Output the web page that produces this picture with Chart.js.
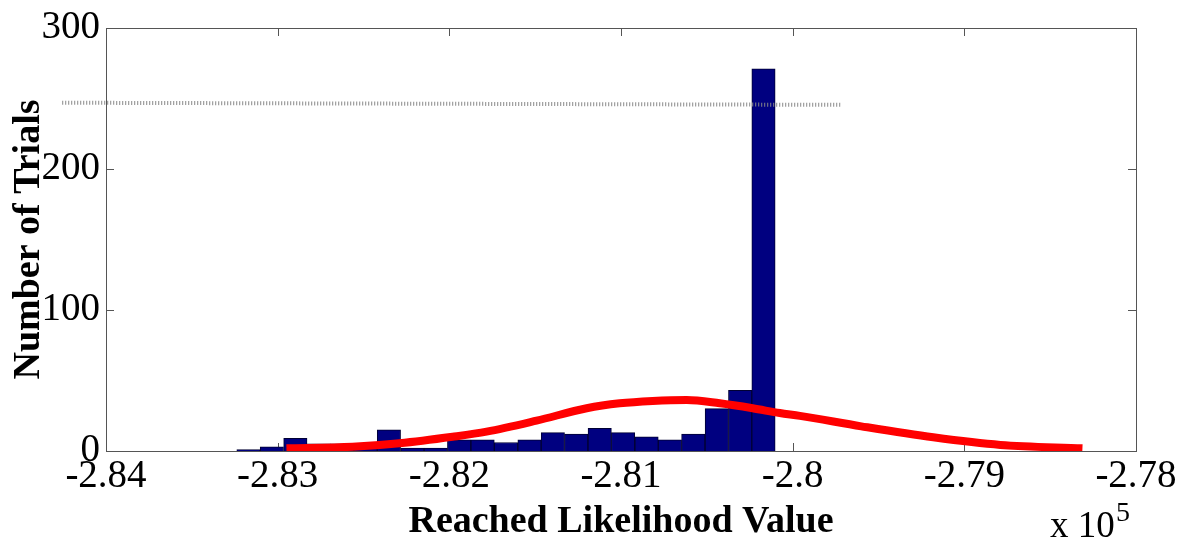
<!DOCTYPE html>
<html lang="en">
<head>
<meta charset="UTF-8">
<title>Reached Likelihood Value</title>
<style>
  body { margin: 0; background: #fff; }
  #wrap { width: 1185px; height: 544px; position: relative; }
</style>
</head>
<body>
<div id="wrap"><canvas id="histChart"></canvas></div>
<script src="https://cdn.jsdelivr.net/npm/chart.js"></script>
<script>
// histogram bins (centres) and counts
const binCenters = [-283170, -283034, -282897, -282761, -282625, -282488, -282352, -282215,
  -282079, -281943, -281806, -281670, -281533, -281397, -281261, -281124, -280988, -280851,
  -280715, -280579, -280442, -280306, -280170];
const binCounts = [1, 3, 9, 5, 5, 2, 15, 2, 2, 8, 8, 6, 8, 13, 12, 16, 13, 10, 8, 12, 30, 43, 271];

// red fitted curve
const fitX = [-282949, -282564, -282290, -281981, -281783, -281492, -281200, -281008,
  -280816, -280617, -280425, -280233, -280075, -279958, -279600, -279181, -278790, -278312];
const fitY = [1.9, 3.0, 5.5, 10.1, 13.7, 21.5, 30.3, 33.8, 35.5, 36.2, 33.8, 30.3, 26.9,
  24.9, 17.5, 9.7, 4.3, 1.9];

// grey dotted line near the top
const refX = [-284255, -279718];
const refY = [247, 245.5];

const xTicks = [-284000, -283000, -282000, -281000, -280000, -279000, -278000];
const xTickLabels = ['-2.84', '-2.83', '-2.82', '-2.81', '-2.8', '-2.79', '-2.78'];
const yTicks = [0, 100, 200, 300];

const serif = "'Liberation Serif', 'Times New Roman', serif";

// box around the plot, inward tick marks and the "x 10^5" multiplier
const framePlugin = {
  id: 'frame',
  beforeDatasetsDraw(chart) {
    const { ctx, chartArea: a, scales } = chart;
    ctx.save();
    ctx.strokeStyle = '#555';
    ctx.lineWidth = 1;
    ctx.strokeRect(a.left + 0.5, a.top + 0.5, a.right - a.left, a.bottom - a.top);
    ctx.beginPath();
    xTicks.forEach(v => {
      const px = Math.round(scales.x.getPixelForValue(v)) + 0.5;
      ctx.moveTo(px, a.bottom); ctx.lineTo(px, a.bottom - 8);
      ctx.moveTo(px, a.top); ctx.lineTo(px, a.top + 8);
    });
    yTicks.forEach(v => {
      const py = Math.round(scales.y.getPixelForValue(v)) + 0.5;
      ctx.moveTo(a.left, py); ctx.lineTo(a.left + 8, py);
      ctx.moveTo(a.right, py); ctx.lineTo(a.right - 8, py);
    });
    ctx.stroke();
    ctx.restore();
  },
  afterDraw(chart) {
    const ctx = chart.ctx;
    ctx.save();
    ctx.fillStyle = '#000';
    ctx.textBaseline = 'alphabetic';
    ctx.font = '37px ' + serif;
    ctx.fillText('x 10', 1050, 537);
    ctx.font = '28px ' + serif;
    ctx.fillText('5', 1116, 521);
    ctx.restore();
  }
};

new Chart(document.getElementById('histChart'), {
  type: 'bar',
  data: {
    datasets: [
      {
        type: 'line',
        data: fitX.map((x, i) => ({ x: x, y: fitY[i] })),
        borderColor: '#ff0000',
        borderWidth: 8,
        pointRadius: 0,
        fill: false,
        cubicInterpolationMode: 'monotone',
        order: 1
      },
      {
        type: 'line',
        data: refX.map((x, i) => ({ x: x, y: refY[i] })),
        borderColor: '#888',
        borderWidth: 4,
        borderDash: [1, 2],
        pointRadius: 0,
        fill: false,
        clip: false,
        order: 2
      },
      {
        type: 'bar',
        data: binCenters.map((x, i) => ({ x: x, y: binCounts[i] })),
        backgroundColor: '#000080',
        borderColor: '#000033',
        borderWidth: 1,
        barPercentage: 1,
        categoryPercentage: 1,
        order: 3
      }
    ]
  },
  options: {
    responsive: true,
    maintainAspectRatio: false,
    animation: false,
    layout: { padding: { left: 0, top: 28, right: 49, bottom: 0 } },
    plugins: { legend: { display: false }, tooltip: { enabled: false } },
    scales: {
      x: {
        type: 'linear',
        min: -284000,
        max: -278000,
        offset: false,
        afterFit: s => { s.height = 93; },
        afterBuildTicks: s => { s.ticks = xTicks.map(v => ({ value: v })); },
        grid: { display: false, drawTicks: false },
        border: { display: false },
        ticks: {
          padding: 6,
          color: '#000',
          maxRotation: 0,
          font: { family: serif, size: 39, lineHeight: 1 },
          callback: v => xTickLabels[xTicks.indexOf(v)]
        },
        title: {
          display: true,
          text: 'Reached Likelihood Value',
          color: '#000',
          padding: { top: 0, bottom: 3 },
          font: { family: serif, size: 38, weight: 'bold', lineHeight: 1 }
        }
      },
      y: {
        min: 0,
        max: 300,
        afterFit: s => { s.width = 106; },
        afterBuildTicks: s => { s.ticks = yTicks.map(v => ({ value: v })); },
        grid: { display: false, drawTicks: false },
        border: { display: false },
        ticks: {
          padding: 6,
          color: '#000',
          font: { family: serif, size: 39, lineHeight: 1 }
        },
        title: {
          display: true,
          text: 'Number of Trials',
          color: '#000',
          padding: { top: 10, bottom: 0 },
          font: { family: serif, size: 38, weight: 'bold', lineHeight: 1 }
        }
      }
    }
  },
  plugins: [framePlugin]
});
</script>
</body>
</html>
